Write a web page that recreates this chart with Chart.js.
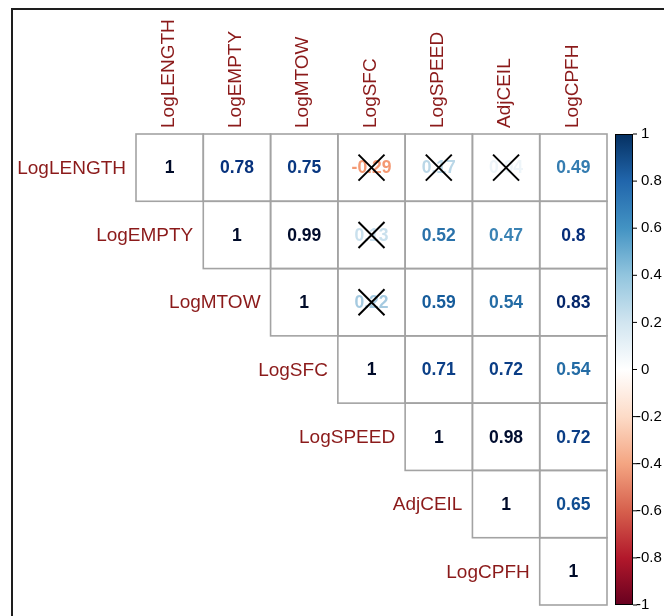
<!DOCTYPE html>
<html>
<head>
<meta charset="utf-8">
<script src="https://cdn.jsdelivr.net/npm/chart.js@4.4.1/dist/chart.umd.min.js"></script>
<style>
  html, body { margin: 0; padding: 0; background: #ffffff; }
  #wrap { position: relative; width: 664px; height: 616px; }
</style>
</head>
<body>
<div id="wrap"><canvas id="corr" width="664" height="616"></canvas></div>
<script>
// Variables of the correlation matrix (columns left to right, rows top to bottom)
const variables = ['LogLENGTH', 'LogEMPTY', 'LogMTOW', 'LogSFC', 'LogSPEED', 'AdjCEIL', 'LogCPFH'];

// Upper triangle, one array per row, starting at the diagonal
const rowLogLENGTH = [1, 0.78, 0.75, -0.29, 0.17, 0.04, 0.49];
const rowLogEMPTY  = [1, 0.99, 0.13, 0.52, 0.47, 0.8];
const rowLogMTOW   = [1, 0.22, 0.59, 0.54, 0.83];
const rowLogSFC    = [1, 0.71, 0.72, 0.54];
const rowLogSPEED  = [1, 0.98, 0.72];
const rowAdjCEIL   = [1, 0.65];
const rowLogCPFH   = [1];

// Pairs that are not significant (crossed out)
const notSignificant = [
  ['LogLENGTH', 'LogSFC'],
  ['LogLENGTH', 'LogSPEED'],
  ['LogLENGTH', 'AdjCEIL'],
  ['LogEMPTY', 'LogSFC'],
  ['LogMTOW', 'LogSFC']
];

// Colour legend ticks
const legendTicks = [1, 0.8, 0.6, 0.4, 0.2, 0, -0.2, -0.4, -0.6, -0.8, -1];

// RdBu diverging palette from -1 to 1
const paletteStops = ['#67001F', '#B2182B', '#D6604D', '#F4A582', '#FDDBC7', '#FFFFFF',
                      '#D1E5F0', '#92C5DE', '#4393C3', '#2166AC', '#053061'];

const rows = [rowLogLENGTH, rowLogEMPTY, rowLogMTOW, rowLogSFC, rowLogSPEED, rowAdjCEIL, rowLogCPFH];

function hexToRgb(h) {
  return [parseInt(h.slice(1, 3), 16), parseInt(h.slice(3, 5), 16), parseInt(h.slice(5, 7), 16)];
}
// Palette colour for a correlation; gamma > 1 gives the deeper tone used for the numbers
function corrColor(v, gamma) {
  const t = (Math.max(-1, Math.min(1, v)) + 1) / 2 * (paletteStops.length - 1);
  const i = Math.min(Math.floor(t), paletteStops.length - 2);
  const f = t - i;
  const a = hexToRgb(paletteStops[i]), b = hexToRgb(paletteStops[i + 1]);
  const g = gamma || 1;
  const c = a.map((x, k) => Math.round(255 * Math.pow((x + (b[k] - x) * f) / 255, g)));
  return 'rgb(' + c.join(',') + ')';
}

// One floating-bar dataset per matrix row: the cell in column j spans [row, row + 1]
const datasets = rows.map((vals, r) => ({
  label: variables[r],
  data: variables.map((_, c) => (c >= r ? [r, r + 1] : null)),
  corr: variables.map((_, c) => (c >= r ? vals[c - r] : null)),
  backgroundColor: '#ffffff',
  borderWidth: 0,
  grouped: false,
  barPercentage: 1,
  categoryPercentage: 1
}));

const LABEL_FONT = '19px "Liberation Sans", Arial, sans-serif';
const LABEL_COLOR = '#8b1a1a';
const GRID_COLOR = '#a3a3a3';

const corrPlugin = {
  id: 'corrDecor',
  beforeDraw(chart) {
    const ctx = chart.ctx;
    ctx.save();
    ctx.fillStyle = '#ffffff';
    ctx.fillRect(0, 0, chart.width, chart.height);
    // outer frame (top and left)
    ctx.strokeStyle = '#1e1e1e';
    ctx.lineWidth = 2;
    ctx.beginPath();
    ctx.moveTo(12, chart.height);
    ctx.lineTo(12, 9);
    ctx.lineTo(chart.width, 9);
    ctx.stroke();
    ctx.restore();
  },
  afterDatasetsDraw(chart) {
    const ctx = chart.ctx;
    const xs = chart.scales.x, ys = chart.scales.y;
    ctx.save();

    // cell outlines, values and crosses
    chart.data.datasets.forEach((ds, r) => {
      const meta = chart.getDatasetMeta(r);
      meta.data.forEach((bar, c) => {
        if (ds.data[c] == null) return;
        const p = bar.getProps(['x', 'y', 'base', 'width'], true);
        const left = p.x - p.width / 2, top = Math.min(p.y, p.base);
        const h = Math.abs(p.base - p.y);
        ctx.strokeStyle = GRID_COLOR;
        ctx.lineWidth = 1.6;
        ctx.strokeRect(left, top, p.width, h);

        const v = ds.corr[c];
        const cy = top + h / 2;
        ctx.fillStyle = corrColor(v, 1.9);
        ctx.font = 'bold 17.5px "Liberation Sans", Arial, sans-serif';
        ctx.textAlign = 'center';
        ctx.textBaseline = 'middle';
        ctx.fillText(String(v), p.x, cy + 1);

        const crossed = notSignificant.some(pr => pr[0] === variables[r] && pr[1] === variables[c]);
        if (crossed) {
          const s = 13;
          ctx.strokeStyle = '#000000';
          ctx.lineWidth = 2;
          ctx.beginPath();
          ctx.moveTo(p.x - s, cy - s); ctx.lineTo(p.x + s, cy + s);
          ctx.moveTo(p.x + s, cy - s); ctx.lineTo(p.x - s, cy + s);
          ctx.stroke();
        }
      });
    });

    // row labels, to the left of each diagonal cell
    ctx.font = LABEL_FONT;
    ctx.fillStyle = LABEL_COLOR;
    ctx.textAlign = 'right';
    ctx.textBaseline = 'middle';
    const colW = xs.getPixelForValue(1) - xs.getPixelForValue(0);
    variables.forEach((name, r) => {
      const x = xs.getPixelForValue(r) - colW / 2 - 10;
      const y = (ys.getPixelForValue(r) + ys.getPixelForValue(r + 1)) / 2;
      ctx.fillText(name, x, y + 1);
    });

    // column labels, rotated above the matrix
    variables.forEach((name, c) => {
      ctx.save();
      ctx.translate(xs.getPixelForValue(c) - 1, ys.getPixelForValue(0) - 6);
      ctx.rotate(-Math.PI / 2);
      ctx.textAlign = 'left';
      ctx.textBaseline = 'middle';
      ctx.fillText(name, 0, 0);
      ctx.restore();
    });

    // colour legend, spanning the matrix height
    const top = ys.getPixelForValue(0), bottom = ys.getPixelForValue(7);
    const bx = 615, bw = 18;
    const grad = ctx.createLinearGradient(0, bottom, 0, top);
    paletteStops.forEach((col, i) => grad.addColorStop(i / (paletteStops.length - 1), col));
    ctx.fillStyle = grad;
    ctx.fillRect(bx, top, bw, bottom - top);
    ctx.strokeStyle = '#000000';
    ctx.lineWidth = 1;
    ctx.strokeRect(bx + 0.5, top + 0.5, bw - 1, bottom - top - 1);
    ctx.font = '15px "Liberation Sans", Arial, sans-serif';
    ctx.fillStyle = '#000000';
    ctx.textAlign = 'left';
    ctx.textBaseline = 'middle';
    legendTicks.forEach(t => {
      const y = bottom - (t + 1) / 2 * (bottom - top);
      ctx.beginPath();
      ctx.moveTo(bx + bw, y); ctx.lineTo(bx + bw + 4, y);
      ctx.stroke();
      ctx.fillText(String(t), bx + bw + (t < 0 ? 3 : 8), y);
    });

    ctx.restore();
  }
};

new Chart(document.getElementById('corr'), {
  type: 'bar',
  data: { labels: variables, datasets },
  options: {
    responsive: false,
    animation: false,
    layout: { padding: { left: 136, right: 57, top: 134, bottom: 11 } },
    plugins: { legend: { display: false }, tooltip: { enabled: false } },
    scales: {
      x: { type: 'category', display: false, offset: true },
      y: { type: 'linear', display: false, min: 0, max: 7, reverse: true }
    }
  },
  plugins: [corrPlugin]
});
</script>
</body>
</html>
